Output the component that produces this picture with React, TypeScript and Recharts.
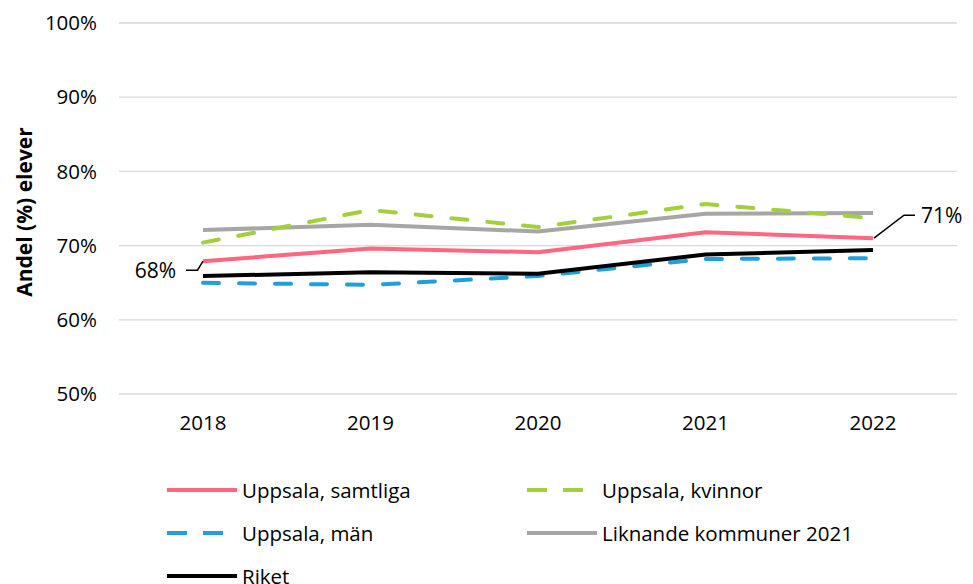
import React from 'react';
import { CartesianGrid, Legend, LabelList, Line, LineChart, XAxis, YAxis } from 'recharts';

const years = ['2018', '2019', '2020', '2021', '2022'];
const samtliga = [67.9, 69.6, 69.1, 71.8, 71.0];
const kvinnor = [70.4, 74.8, 72.5, 75.6, 73.7];
const man = [65.0, 64.7, 65.9, 68.2, 68.3];
const liknande = [72.1, 72.8, 71.9, 74.3, 74.4];
const riket = [65.9, 66.4, 66.2, 68.8, 69.4];
const yTicks = [50, 60, 70, 80, 90, 100];
const endLabels = ['68%', '', '', '', '71%'];

const data = years.map((year, i) => ({
  year,
  samtliga: samtliga[i],
  kvinnor: kvinnor[i],
  man: man[i],
  liknande: liknande[i],
  riket: riket[i],
  label: endLabels[i],
}));

const font = '"Open Sans", sans-serif';

const legendItems = [
  { name: 'Uppsala, samtliga', color: '#FF6681', dash: undefined as string | undefined },
  { name: 'Uppsala, kvinnor', color: '#A5CF3A', dash: '20 16' },
  { name: 'Uppsala, män', color: '#229FDB', dash: '20 16' },
  { name: 'Liknande kommuner 2021', color: '#A6A6A6', dash: undefined },
  { name: 'Riket', color: '#000000', dash: undefined },
];

const LegendBox = () => (
  <div
    style={{
      display: 'grid',
      gridTemplateColumns: '360px 400px',
      rowGap: 17,
      fontFamily: font,
      fontSize: 20.5,
      color: '#000',
    }}
  >
    {legendItems.map((it) => (
      <div key={it.name} style={{ display: 'flex', alignItems: 'center', height: 26 }}>
        <svg width={70} height={10} style={{ marginRight: 5 }}>
          <line
            x1={0}
            y1={5}
            x2={70}
            y2={5}
            stroke={it.color}
            strokeWidth={4}
            strokeDasharray={it.dash}
          />
        </svg>
        <span>{it.name}</span>
      </div>
    ))}
  </div>
);

// leader-line labels for first and last point of "samtliga"
const EndLabel = (props: any) => {
  const { x, y, value } = props;
  if (!value) return null;
  if (x < 500) {
    return (
      <g>
        <polyline
          points={`${x - 17},${y + 9} ${x - 5.5},${y + 9} ${x},${y}`}
          fill="none"
          stroke="#000"
          strokeWidth={1.5}
        />
        <text x={x - 27} y={y + 9} dy="0.355em" textAnchor="end" fontFamily={font} fontSize={21} fill="#000">
          {value}
        </text>
      </g>
    );
  }
  return (
    <g>
      <polyline
        points={`${x + 1},${y} ${x + 31},${y - 23} ${x + 42},${y - 23}`}
        fill="none"
        stroke="#000"
        strokeWidth={1.5}
      />
      <text x={x + 48} y={y - 23} dy="0.355em" textAnchor="start" fontFamily={font} fontSize={21} fill="#000">
        {value}
      </text>
    </g>
  );
};

const App: React.FC = () => {
  return (
    <div style={{ position: 'absolute', left: 0, top: 0, background: '#fff' }}>
      <LineChart width={973} height={584} data={data} margin={{ top: 23, right: 16, left: 0, bottom: 150 }}>
        <CartesianGrid vertical={false} stroke="#D9D9D9" strokeWidth={1.3} />
        <XAxis
          dataKey="year"
          axisLine={false}
          tickLine={false}
          tickSize={0}
          tickMargin={21}
          height={40}
          padding={{ left: 84, right: 84 }}
          tick={{ fontFamily: font, fontSize: 20.5, fill: '#000' }}
        />
        <YAxis
          domain={[50, 100]}
          ticks={yTicks}
          tickFormatter={(v: number) => `${v}%`}
          axisLine={false}
          tickLine={false}
          tickSize={0}
          tickMargin={22}
          width={119}
          tick={{ fontFamily: font, fontSize: 20.5, fill: '#000' }}
          label={{
            content: () => (
              <text
                transform="translate(24,212) rotate(-90)"
                textAnchor="middle"
                dominantBaseline="central"
                fontFamily={font}
                fontSize={21}
                fontWeight="bold"
                fill="#000"
              >
                Andel (%) elever
              </text>
            ),
          }}
        />
        <Legend
          layout="horizontal"
          verticalAlign="middle"
          content={() => <LegendBox />}
          wrapperStyle={{ position: 'absolute', top: 477, left: 167, width: 780 }}
        />
        <Line dataKey="liknande" stroke="#A6A6A6" strokeWidth={4} dot={false} isAnimationActive={false} />
        <Line
          dataKey="kvinnor"
          stroke="#A5CF3A"
          strokeWidth={4}
          strokeDasharray="16 20"
          strokeLinecap="round"
          dot={false}
          isAnimationActive={false}
        />
        <Line
          dataKey="man"
          stroke="#229FDB"
          strokeWidth={4}
          strokeDasharray="16 20"
          strokeLinecap="round"
          dot={false}
          isAnimationActive={false}
        />
        <Line dataKey="riket" stroke="#000000" strokeWidth={4} dot={false} isAnimationActive={false} />
        <Line dataKey="samtliga" stroke="#FF6681" strokeWidth={4} dot={false} isAnimationActive={false}>
          <LabelList dataKey="label" content={EndLabel} />
        </Line>
      </LineChart>
    </div>
  );
};

export default App;
